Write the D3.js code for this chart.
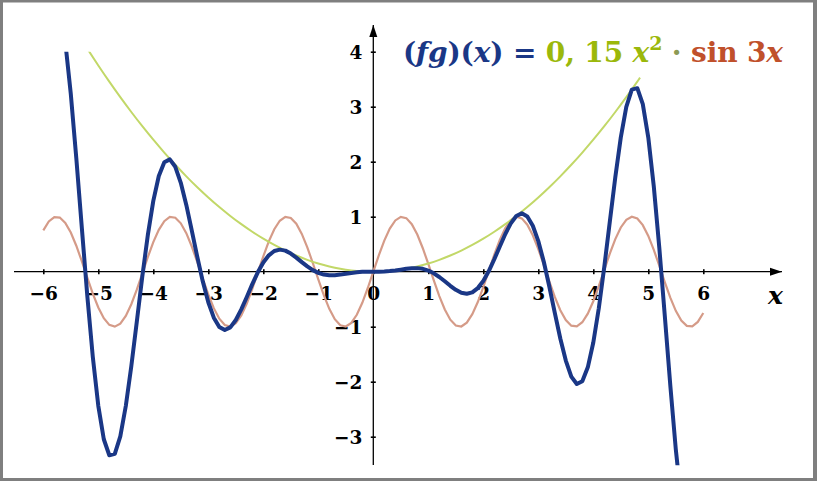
<!DOCTYPE html>
<html>
<head>
<meta charset="utf-8">
<script src="https://cdn.jsdelivr.net/npm/d3@7"></script>
<style>
  html, body { margin: 0; padding: 0; background: #7f7f7f; }
  svg { display: block; }
  .tick text { font-family: "DejaVu Serif", serif; font-weight: bold; font-size: 18.5px; fill: #000; }
</style>
</head>
<body>
<svg id="chart" width="817" height="481"></svg>
<script>
// *******************
// data
// *******************

const xTicks = [-6, -5, -4, -3, -2, -1, 0, 1, 2, 3, 4, 5, 6];
const yTicks = [-3, -2, -1, 1, 2, 3, 4];

// sin 3x, sampled every 0.1 from -6 to 6
const sinX = d3.range(-60, 61).map((k) => k / 10);
const sinY = [
  0.751, 0.913, 0.993, 0.984, 0.888, 0.712, 0.472, 0.191, -0.108, -0.397,
  -0.650, -0.846, -0.966, -0.999, -0.944, -0.804, -0.592, -0.327, -0.034, 0.263,
  0.537, 0.762, 0.919, 0.995, 0.981, 0.880, 0.700, 0.458, 0.174, -0.125,
  -0.412, -0.663, -0.855, -0.970, -0.999, -0.938, -0.794, -0.578, -0.312, -0.017,
  0.279, 0.551, 0.773, 0.926, 0.996, 0.978, 0.872, 0.688, 0.443, 0.158,
  -0.141, -0.427, -0.675, -0.863, -0.974, -0.997, -0.932, -0.783, -0.565, -0.296,
  0,
  0.296, 0.565, 0.783, 0.932, 0.997, 0.974, 0.863, 0.675, 0.427, 0.141,
  -0.158, -0.443, -0.688, -0.872, -0.978, -0.996, -0.926, -0.773, -0.551, -0.279,
  0.017, 0.312, 0.578, 0.794, 0.938, 0.999, 0.970, 0.855, 0.663, 0.412,
  0.125, -0.174, -0.458, -0.700, -0.880, -0.981, -0.995, -0.919, -0.762, -0.537,
  -0.263, 0.034, 0.327, 0.592, 0.804, 0.944, 0.999, 0.966, 0.846, 0.650,
  0.397, 0.108, -0.191, -0.472, -0.712, -0.888, -0.984, -0.993, -0.913, -0.751,
];

// 0,15 x^2 (the green parabola)
const sqX = [
  -5.2, -5.0, -4.8, -4.6, -4.4, -4.2, -4.0, -3.8, -3.6, -3.4, -3.2, -3.0, -2.8,
  -2.6, -2.4, -2.2, -2.0, -1.8, -1.6, -1.4, -1.2, -1.0, -0.8, -0.6, -0.4, -0.2,
  0, 0.2, 0.4, 0.6, 0.8, 1.0, 1.2, 1.4, 1.6, 1.8, 2.0, 2.2, 2.4, 2.6, 2.8, 3.0,
  3.2, 3.4, 3.6, 3.8, 4.0, 4.2, 4.4, 4.6, 4.8, 4.85,
];
const sqY = [
  4.056, 3.75, 3.456, 3.174, 2.904, 2.646, 2.4, 2.166, 1.944, 1.734, 1.536, 1.35, 1.176,
  1.014, 0.864, 0.726, 0.6, 0.486, 0.384, 0.294, 0.216, 0.15, 0.096, 0.054, 0.024, 0.006,
  0, 0.006, 0.024, 0.054, 0.096, 0.15, 0.216, 0.294, 0.384, 0.486, 0.6, 0.726, 0.864, 1.014, 1.176, 1.35,
  1.536, 1.734, 1.944, 2.166, 2.4, 2.646, 2.904, 3.174, 3.456, 3.528,
];

// (fg)(x), sampled every 0.1 from -5.7 to 5.7
const fgX = d3.range(-57, 58).map((k) => k / 10);
const fgY = [
  4.796, 4.175, 3.230, 2.066, 0.804, -0.438, -1.548, -2.439, -3.046, -3.337,
  -3.311, -2.995, -2.442, -1.719, -0.908, -0.089, 0.664, 1.288, 1.739, 1.991,
  2.042, 1.907, 1.616, 1.214, 0.747, 0.268, -0.180, -0.556, -0.836, -1.005,
  -1.061, -1.013, -0.879, -0.686, -0.459, -0.226, -0.011, 0.168, 0.298, 0.376,
  0.401, 0.383, 0.330, 0.256, 0.174, 0.096, 0.029, -0.021, -0.052, -0.065,
  -0.063, -0.053, -0.037, -0.022, -0.011, -0.003, 0.000,
  0,
  0.000, 0.003, 0.011, 0.022, 0.037, 0.053, 0.063, 0.065, 0.052, 0.021,
  -0.029, -0.096, -0.174, -0.256, -0.330, -0.383, -0.401, -0.376, -0.298, -0.168,
  0.011, 0.226, 0.459, 0.686, 0.879, 1.013, 1.061, 1.005, 0.836, 0.556,
  0.180, -0.268, -0.747, -1.214, -1.616, -1.907, -2.042, -1.991, -1.739, -1.288,
  -0.664, 0.089, 0.908, 1.719, 2.442, 2.995, 3.311, 3.337, 3.046, 2.439,
  1.548, 0.438, -0.804, -2.066, -3.230, -4.175, -4.796,
];

// *******************
// set up
// *******************

const COLORS = {
  BLUE: "#1a3786",
  GREEN: "#c2d868",
  PINK: "#d59b88",
  TITLE_GREEN: "#9bb80b",
  TITLE_RED: "#c0502b",
};

const svg = d3.select("#chart");

// white panel inside the grey frame
svg
  .append("rect")
  .attr("x", 3)
  .attr("y", 2.5)
  .attr("width", 810)
  .attr("height", 475.5)
  .attr("fill", "#fff");

const x = d3.scaleLinear().domain([-6, 6]).range([43.3, 703.3]);
const y = d3.scaleLinear().domain([-3, 4]).range([436.7, 51.7]);

const defs = svg.append("defs");

// clip the curves to the visible window
defs
  .append("clipPath")
  .attr("id", "plot-clip")
  .append("rect")
  .attr("x", 3)
  .attr("y", y(4))
  .attr("width", 810)
  .attr("height", y(-3.52) - y(4));

defs
  .append("marker")
  .attr("id", "arrow")
  .attr("viewBox", "0 0 12 10")
  .attr("refX", 12)
  .attr("refY", 5)
  .attr("markerWidth", 12)
  .attr("markerHeight", 10)
  .attr("markerUnits", "userSpaceOnUse")
  .attr("orient", "auto")
  .append("path")
  .attr("d", "M0,1 L12,5 L0,9 Z")
  .attr("fill", "#000");

// *******************
// curves
// *******************

const line = d3
  .line()
  .x((d) => x(d[0]))
  .y((d) => y(d[1]));

const curves = svg.append("g").attr("clip-path", "url(#plot-clip)");

curves
  .append("path")
  .datum(d3.zip(sinX, sinY))
  .attr("d", line)
  .attr("fill", "none")
  .attr("stroke", COLORS.PINK)
  .attr("stroke-width", 2.2);

curves
  .append("path")
  .datum(d3.zip(sqX, sqY))
  .attr("d", line.curve(d3.curveCatmullRom))
  .attr("fill", "none")
  .attr("stroke", COLORS.GREEN)
  .attr("stroke-width", 2);

line.curve(d3.curveLinear);

// *******************
// axes
// *******************

const fmt = (d) => (d < 0 ? "\u2212" + Math.abs(d) : d);

const xAxis = svg
  .append("g")
  .attr("transform", `translate(0,${y(0)})`)
  .call(d3.axisBottom(x).tickValues(xTicks).tickFormat(fmt).tickSize(0));
xAxis.select(".domain").remove();
xAxis.selectAll(".tick line").attr("y1", -2.5).attr("y2", 2.5).attr("stroke", "#000").attr("stroke-width", 1.6);
xAxis.selectAll(".tick text").attr("dy", null).attr("y", 28);

const yAxis = svg
  .append("g")
  .attr("transform", `translate(${x(0)},0)`)
  .call(d3.axisLeft(y).tickValues(yTicks).tickFormat(fmt).tickSize(0).tickPadding(11));
yAxis.select(".domain").remove();
yAxis.selectAll(".tick line").attr("x1", -2.5).attr("x2", 2.5).attr("stroke", "#000").attr("stroke-width", 1.6);
yAxis.selectAll(".tick text").attr("dy", null).attr("y", 7);

svg
  .append("line")
  .attr("x1", 14)
  .attr("x2", 782)
  .attr("y1", y(0))
  .attr("y2", y(0))
  .attr("stroke", "#000")
  .attr("stroke-width", 1.3)
  .attr("marker-end", "url(#arrow)");

svg
  .append("line")
  .attr("x1", x(0))
  .attr("x2", x(0))
  .attr("y1", 465)
  .attr("y2", 25)
  .attr("stroke", "#000")
  .attr("stroke-width", 1.3)
  .attr("marker-end", "url(#arrow)");

// blue product curve drawn over the axes
curves
  .append("path")
  .datum(d3.zip(fgX, fgY))
  .attr("d", line)
  .attr("fill", "none")
  .attr("stroke", COLORS.BLUE)
  .attr("stroke-width", 4)
  .attr("stroke-linejoin", "round");
curves.raise();

// axis name
svg
  .append("text")
  .attr("x", 768)
  .attr("y", 304)
  .attr("font-family", "DejaVu Serif, serif")
  .attr("font-style", "italic")
  .attr("font-weight", "bold")
  .attr("font-size", 25)
  .text("x");

// *******************
// title
// *******************

const title = svg
  .append("text")
  .attr("x", 403)
  .attr("y", 62)
  .attr("font-family", "DejaVu Serif, serif")
  .attr("font-weight", "bold")
  .attr("font-size", 28)
  .attr("textLength", 380)
  .attr("lengthAdjust", "spacing");

const parts = [
  { t: "(", c: COLORS.BLUE },
  { t: "fg", c: COLORS.BLUE, i: true },
  { t: ")(", c: COLORS.BLUE },
  { t: "x", c: COLORS.BLUE, i: true },
  { t: ") = ", c: COLORS.BLUE },
  { t: "0, 15 ", c: COLORS.TITLE_GREEN },
  { t: "x", c: COLORS.TITLE_GREEN, i: true },
  { t: "2", c: COLORS.TITLE_GREEN, sup: true },
  { t: " \u00b7 ", c: "#8c9a55" },
  { t: "sin 3", c: COLORS.TITLE_RED },
  { t: "x", c: COLORS.TITLE_RED, i: true },
];

parts.forEach((p, i) => {
  const ts = title
    .append("tspan")
    .attr("fill", p.c)
    .attr("font-style", p.i ? "italic" : "normal")
    .text(p.t);
  if (p.sup) ts.attr("font-size", 19).attr("dy", -12);
  if (i > 0 && parts[i - 1].sup) ts.attr("dy", 12);
});
</script>
</body>
</html>
